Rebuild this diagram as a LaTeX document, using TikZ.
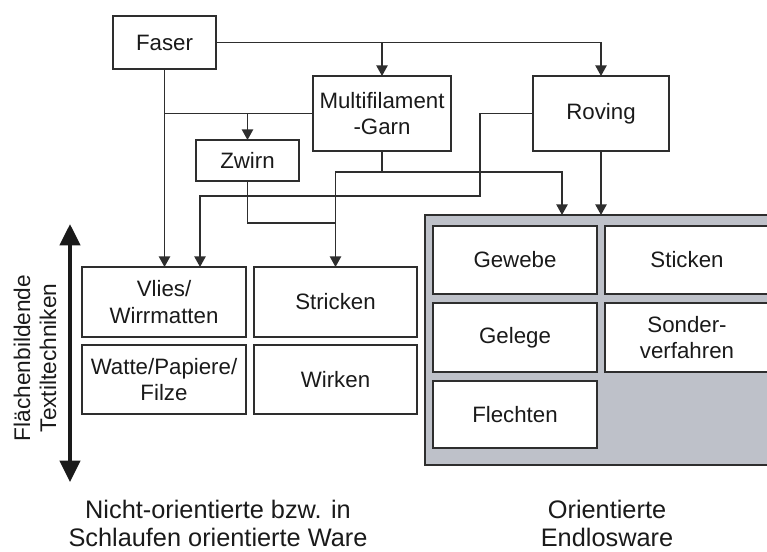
\documentclass[tikz,border=0pt]{standalone}
\usepackage{fontspec}
\setmainfont{Liberation Sans}
\usetikzlibrary{arrows.meta}
\definecolor{linec}{HTML}{2E2E2E}
\definecolor{textc}{HTML}{1A1A1A}
\definecolor{greyfill}{RGB}{190,193,201}
\begin{document}
\begin{tikzpicture}[x=0.75pt,y=-0.75pt,
 box/.style={draw=linec, line width=1.5pt, fill=white, inner sep=0pt, outer sep=0pt, align=center, text=textc, font=\fontsize{16.7}{20}\selectfont},
 conn/.style={draw=linec, line width=1.1pt},
 arr/.style={conn, -{Triangle[length=8pt,width=8.5pt]}},
 bigarr/.style={draw=textc, line width=3pt, {Triangle[length=16pt,width=15pt]}-{Triangle[length=16pt,width=15pt]}},
 lbl/.style={align=center, text=textc, inner sep=0pt, font=\fontsize{19}{21}\selectfont},
]
\clip (0,0) rectangle (767,551);
\fill[white] (0,0) rectangle (767,551);

% top nodes
\node[box, minimum width=77.25pt, minimum height=39.75pt] (faser) at (164.5,42.5) {Faser};
\node[box, minimum width=103.5pt, minimum height=56.25pt] (multi) at (382,113.5) {Multifilament\\-Garn};
\node[box, minimum width=102pt, minimum height=56.25pt] (roving) at (601,113.5) {Roving};
\node[box, minimum width=77.25pt, minimum height=30.75pt] (zwirn) at (247.5,160.5) {Zwirn};

% left group
\node[box, minimum width=123pt, minimum height=52.5pt] (vlies) at (164,302) {Vlies/\\Wirrmatten};
\node[box, minimum width=122.25pt, minimum height=52.5pt] (stricken) at (335.5,302) {Stricken};
\node[box, minimum width=123pt, minimum height=51.75pt] (watte) at (164,379.5) {Watte/Papiere/\\Filze};
\node[box, minimum width=122.25pt, minimum height=51.75pt] (wirken) at (335.5,379.5) {Wirken};

% right group
\node[draw=linec, line width=1.5pt, fill=greyfill, inner sep=0pt, outer sep=0pt, minimum width=264pt, minimum height=187.5pt] (endlos) at (601,340) {};
\node[box, minimum width=123pt, minimum height=51pt] (gewebe) at (515,260) {Gewebe};
\node[box, minimum width=123pt, minimum height=51pt] (sticken) at (687,260) {Sticken};
\node[box, minimum width=123pt, minimum height=51.75pt] (gelege) at (515,337.5) {Gelege};
\node[box, minimum width=123pt, minimum height=51.75pt] (sonder) at (687,337.5) {Sonder-\\verfahren};
\node[box, minimum width=123pt, minimum height=50.25pt] (flechten) at (515,414.5) {Flechten};

% coordinates
\coordinate (fm) at (multi.north |- faser.east);
\coordinate (mj) at (faser.south |- multi.west);
\coordinate (mb) at (382,172);
\coordinate (g1) at (562,215);
\coordinate (zj) at (335.5,223);
\coordinate (rv1) at (480,196);
\coordinate (rv2) at (200,267);
\coordinate (axt) at (70,224);
\coordinate (axb) at (70,482);

% connectors
\draw[arr] (faser.east) -| (roving.north);
\draw[arr] (fm) -- (multi.north);
\draw[arr] (faser.south) -- (faser.south |- vlies.north);
\draw[conn] (multi.west) -- (mj);
\draw[arr] (zwirn.north |- multi.west) -- (zwirn.north);
\draw[arr] (multi.south) -- (mb) -| (stricken.north);
\draw[arr] (mb) -| (g1);
\draw[conn] (zwirn.south) |- (zj);
\draw[arr] (roving.west) -| (rv1) -| (rv2);
\draw[arr] (roving.south) -- (roving.south |- endlos.north);

% axis
\draw[bigarr] (axb) -- (axt);
\node[rotate=90, align=center, text=textc, inner sep=0pt, font=\fontsize{17}{19.5}\selectfont] (axlbl) at (35,358) {Flächenbildende\\Textiltechniken};

% bottom labels
\node[lbl] (lbl1) at (218,523) {Nicht-orientierte bzw. in\\Schlaufen orientierte Ware};
\node[lbl] (lbl2) at (607,523) {Orientierte\\Endlosware};
\end{tikzpicture}
\end{document}
